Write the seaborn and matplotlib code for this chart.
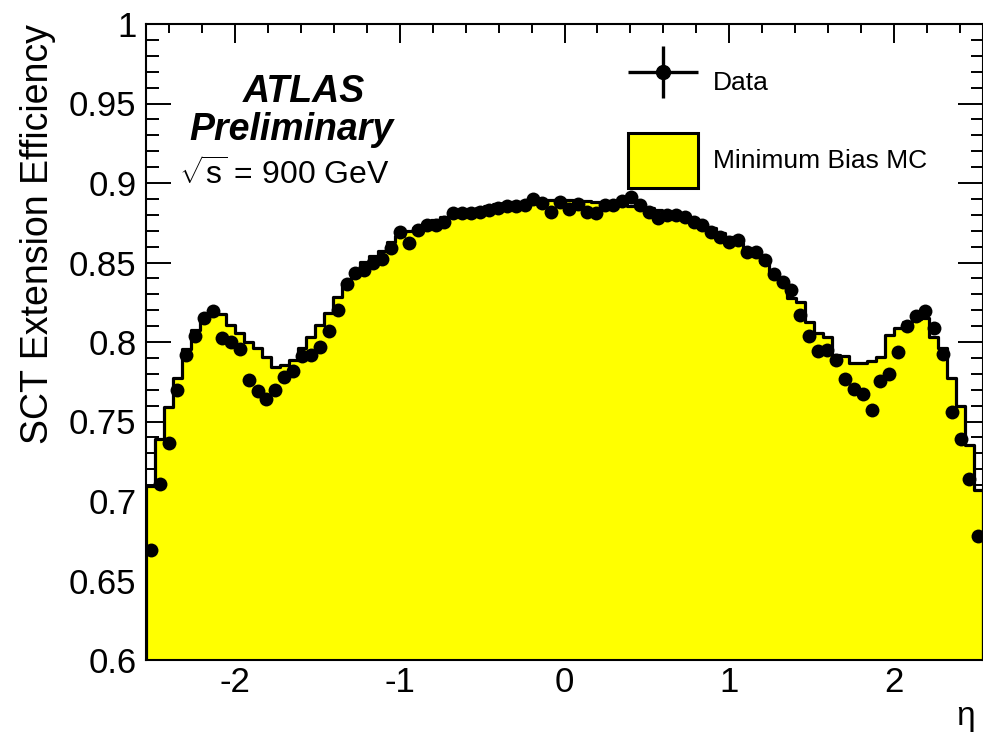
import numpy as np
import pandas as pd
import matplotlib
matplotlib.use("Agg")
import matplotlib.pyplot as plt
import seaborn as sns
from matplotlib.patches import Patch
from matplotlib.legend_handler import HandlerErrorbar
from matplotlib.ticker import MultipleLocator, FixedLocator, FixedFormatter

# --- eta binning --------------------------------------------------------
ETA_MIN, ETA_MAX, N_BINS = -2.54, 2.54, 94
eta_edges = np.linspace(ETA_MIN, ETA_MAX, N_BINS + 1)
eta_centers = 0.5 * (eta_edges[:-1] + eta_edges[1:])

# --- SCT extension efficiency per eta bin: collision data ----------------
data_eff = [
    0.669, 0.711, 0.7365, 0.770, 0.792, 0.804, 0.815, 0.8195, 0.8025, 0.800,
    0.7956, 0.776, 0.769, 0.764, 0.770, 0.778, 0.782, 0.7915, 0.7918, 0.797,
    0.8071, 0.8200, 0.8365, 0.8432, 0.8453, 0.8495, 0.852, 0.8589, 0.8694, 0.8625,
    0.8704, 0.8736, 0.8736, 0.8757, 0.8809, 0.8809, 0.8809, 0.8819, 0.883, 0.8841,
    0.8855, 0.8855, 0.8862, 0.8900, 0.8875, 0.8819, 0.8882, 0.8835, 0.8868, 0.8819,
    0.8809, 0.8862, 0.8862, 0.8889, 0.891, 0.8862, 0.8819, 0.8778, 0.8799, 0.8799,
    0.8788, 0.8757, 0.8736, 0.8694, 0.8662, 0.8631, 0.8642, 0.8568, 0.8564, 0.8518,
    0.8428, 0.8379, 0.8327, 0.817, 0.8038, 0.7945, 0.795, 0.7887, 0.7767, 0.7703,
    0.7673, 0.7572, 0.7755, 0.7799, 0.7935, 0.8101, 0.8165, 0.8197, 0.8086, 0.7925,
    0.7558, 0.739, 0.7136, 0.678,
]

# --- SCT extension efficiency per eta bin: minimum bias simulation -------
mc_eff = [
    0.7094, 0.7388, 0.7593, 0.7772, 0.7954, 0.8075, 0.8160, 0.8208, 0.8175, 0.8107,
    0.8055, 0.8002, 0.7960, 0.7904, 0.7841, 0.7855, 0.7887, 0.7960, 0.8030, 0.8110,
    0.8180, 0.8280, 0.8370, 0.8440, 0.8500, 0.8540, 0.8575, 0.8630, 0.8665, 0.8695,
    0.8720, 0.8745, 0.8765, 0.8785, 0.8805, 0.8820, 0.8835, 0.8845, 0.8855, 0.8865,
    0.8872, 0.8878, 0.8882, 0.8886, 0.8888, 0.8890, 0.8890, 0.8890, 0.8888, 0.8885,
    0.8882, 0.8878, 0.8872, 0.8866, 0.8858, 0.8850, 0.8840, 0.8828, 0.8815, 0.8800,
    0.8783, 0.8762, 0.8740, 0.8715, 0.8688, 0.8658, 0.8625, 0.8585, 0.8545, 0.8500,
    0.8440, 0.8370, 0.8275, 0.8253, 0.8128, 0.8055, 0.8033, 0.7918, 0.7912, 0.7870,
    0.7870, 0.7882, 0.7908, 0.8044, 0.8086, 0.8128, 0.8143, 0.8149, 0.8033, 0.7960,
    0.7772, 0.7595, 0.7352, 0.7069,
]

y_ticks = [0.6, 0.65, 0.7, 0.75, 0.8, 0.85, 0.9, 0.95, 1.0]
y_tick_labels = ["0.6", "0.65", "0.7", "0.75", "0.8", "0.85", "0.9", "0.95", "1"]
x_ticks = [-2, -1, 0, 1, 2]
x_tick_labels = ["-2", "-1", "0", "1", "2"]

MC_YELLOW = "#ffff00"

sns.set_theme(style="ticks")
plt.rcParams["font.family"] = ["Liberation Sans", "DejaVu Sans"]
plt.rcParams["axes.unicode_minus"] = False
plt.rcParams["mathtext.fontset"] = "custom"
plt.rcParams["mathtext.rm"] = "Liberation Sans"
plt.rcParams["mathtext.it"] = "Liberation Sans"
for key in ("text.color", "axes.labelcolor", "xtick.color", "ytick.color",
            "xtick.labelcolor", "ytick.labelcolor", "axes.edgecolor"):
    plt.rcParams[key] = "black"

W, H = 983, 736
fig = plt.figure(figsize=(W / 100, H / 100), dpi=100, facecolor="white")
ax = fig.add_axes([146.3 / W, 1 - 660 / H, (982.8 - 146.3) / W, (660 - 24) / H])
ax.set_facecolor("white")

mc_df = pd.DataFrame({"eta": eta_centers, "eff": mc_eff})
data_df = pd.DataFrame({"eta": eta_centers, "eff": data_eff})

# simulation as a filled step histogram
sns.histplot(data=mc_df, x="eta", weights="eff", bins=eta_edges.tolist(),
             element="step", fill=True, color=MC_YELLOW, edgecolor="black",
             linewidth=2.3, alpha=1.0, ax=ax, zorder=1)

# data as black markers
sns.scatterplot(data=data_df, x="eta", y="eff", s=100, color="black",
                linewidth=0, ax=ax, zorder=3, legend=False)

ax.set_xlim(ETA_MIN, ETA_MAX)
ax.set_ylim(0.6, 1.0)

# axis frame and ticks
for sp in ax.spines.values():
    sp.set_visible(True)
    sp.set_linewidth(1.5)
    sp.set_color("black")
    sp.set_zorder(5)

ax.xaxis.set_major_locator(FixedLocator(x_ticks))
ax.xaxis.set_major_formatter(FixedFormatter(x_tick_labels))
ax.xaxis.set_minor_locator(MultipleLocator(0.2))
ax.yaxis.set_major_locator(FixedLocator(y_ticks))
ax.yaxis.set_major_formatter(FixedFormatter(y_tick_labels))
ax.yaxis.set_minor_locator(MultipleLocator(0.01))

ax.tick_params(axis="both", which="both", direction="in", top=True, right=True,
               color="black", width=1.4, zorder=6)
ax.tick_params(axis="x", which="major", length=13.5, pad=4, labelsize=25)
ax.tick_params(axis="x", which="minor", length=6.5)
ax.tick_params(axis="y", which="major", length=18, pad=7, labelsize=25)
ax.tick_params(axis="y", which="minor", length=9)

ax.set_xlabel("η", fontsize=24, loc="right", labelpad=2)
ax.xaxis.label.set_x(0.991)
ax.set_ylabel("SCT Extension Efficiency", fontsize=27, loc="top", labelpad=9)

# experiment label
ax.text(-1.956, 0.951, "ATLAS", fontsize=27, fontweight="bold",
        fontstyle="italic", ha="left", va="baseline")
ax.text(-2.277, 0.927, "Preliminary", fontsize=27, fontweight="bold",
        fontstyle="italic", ha="left", va="baseline")
ax.text(-2.34, 0.8987, r"$\sqrt{s}$ = 900 GeV", fontsize=23,
        ha="left", va="baseline")

# legend
data_proxy = ax.errorbar([], [], xerr=[], yerr=[], fmt="o", color="black",
                         ms=10, elinewidth=2.4, capsize=0)
mc_proxy = Patch(facecolor=MC_YELLOW, edgecolor="black", linewidth=2.2)
leg_fs = 19
leg = ax.legend([data_proxy, mc_proxy], ["Data", "Minimum Bias MC"],
                handler_map={type(data_proxy): HandlerErrorbar(xerr_size=1.33, yerr_size=0.98)},
                loc="upper left", bbox_to_anchor=(628 / W, 1 - 54.5 / H),
                bbox_transform=fig.transFigure, frameon=False, fontsize=leg_fs,
                handlelength=2.65, handleheight=2.83, handletextpad=0.57,
                labelspacing=0.89, borderpad=0, borderaxespad=0)

fig.savefig("out.png", dpi=100, facecolor="white")
